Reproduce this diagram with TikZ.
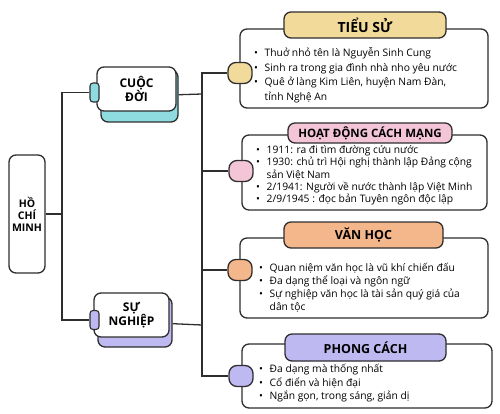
\documentclass[tikz,border=0pt]{standalone}
\usepackage{fontspec}
\setmainfont{Open Sans}
\usetikzlibrary{positioning}
\definecolor{ink}{HTML}{2E2E2E}
\definecolor{aqua}{HTML}{8FDCE0}
\definecolor{lilac}{HTML}{BEB9F1}
\definecolor{sand}{HTML}{F2DB9A}
\definecolor{rose}{HTML}{F4C4D7}
\definecolor{peach}{HTML}{F4B78C}
\tikzset{link/.style={draw=ink,line width=1.3pt},
         card/.style={draw=ink,line width=1.3pt,rounded corners=7pt,fill=white,inner sep=0pt},
         tab/.style={draw=ink,line width=1.1pt,rounded corners=3pt,minimum width=9pt,minimum height=19pt,inner sep=0pt},
         pill/.style={draw=ink,line width=1.3pt,rounded corners=8pt,minimum width=24pt,minimum height=21pt,inner sep=0pt},
         heading/.style={card,font=\bfseries\fontsize{12.5}{14}\selectfont},
         branch/.style={card,align=center,font=\bfseries\fontsize{12}{14}\selectfont},
         points/.style={align=left,anchor=west,inner sep=0pt},
        }
\newcommand{\bul}{\makebox[10.5pt][l]{\textbullet}}
\newcommand{\cnt}{\hspace*{10.5pt}}

\begin{document}
\begin{tikzpicture}[x=1pt,y=-1pt]
        \useasboundingbox (0,0) rectangle (500,414);
        \coordinate (spL) at (62,214);
        \coordinate (spA) at (202,94);
        \coordinate (spB) at (202,325);

        \node[card, minimum width=36pt, minimum height=118pt, align=center, font=\bfseries\fontsize{10.5}{12}\selectfont](root)at(27,214){HỒ\\CHÍ\\MINH};

        \node[card, fill=aqua, minimum width=77pt, minimum height=52pt](cdback)at(139.5,96){};
        \node[branch, minimum width=79pt, minimum height=44pt](cd)at(136.5,89){CUỘC\\ĐỜI};
        \node[tab, fill=aqua](cdtab)at(94.5,92.5){};

        \node[card, fill=lilac, minimum width=74pt, minimum height=50pt](snback)at(135,322){};
        \node[branch, minimum width=75pt, minimum height=44pt](sn)at(131.5,315){SỰ\\NGHIỆP};
        \node[tab, fill=lilac](sntab)at(94.5,320){};

        \node[card, minimum width=248pt, minimum height=79pt](bio)at(364,68.5){};
        \node[heading, fill=sand, minimum width=162pt, minimum height=26pt, font=\bfseries\fontsize{14}{16}\selectfont](biohead)at(365,25){TIỂU SỬ};
        \node[pill, fill=sand](biopill)at(240,73){};
        \node[points, font=\fontsize{10.3}{14.5}\selectfont](biotext)at(254,75){\bul Thuở nhỏ tên là Nguyễn Sinh Cung\\
            \bul Sinh ra trong gia đình nhà nho yêu nước\\
            \bul Quê ở làng Kim Liên, huyện Nam Đàn,\\
            \cnt tỉnh Nghệ An};

        \node[card, minimum width=245pt, minimum height=75pt](act)at(364.5,172.5){};
        \node[heading, fill=rose, minimum width=164pt, minimum height=20pt, font=\bfseries\fontsize{11.5}{13}\selectfont](acthead)at(370,133){HOẠT ĐỘNG CÁCH MẠNG};
        \node[pill, fill=rose](actpill)at(241,171){};
        \node[points, font=\fontsize{10.3}{12.3}\selectfont](acttext)at(256,175.5){\bul 1911: ra đi tìm đường cứu nước\\
            \bul 1930: chủ trì Hội nghị thành lập Đảng cộng\\
            \cnt sản Việt Nam\\
            \bul 2/1941: Người về nước thành lập Việt Minh\\
            \bul 2/9/1945 : đọc bản Tuyên ngôn độc lập};

        \node[card, minimum width=248pt, minimum height=80pt](lit)at(364,278){};
        \node[heading, fill=peach, minimum width=159pt, minimum height=26pt](lithead)at(363.5,235){VĂN HỌC};
        \node[pill, fill=peach](litpill)at(240,270){};
        \node[points, font=\fontsize{10.3}{13}\selectfont](littext)at(259,287.5){\bul Quan niệm văn học là vũ khí chiến đấu\\
            \bul Đa dạng thể loại và ngôn ngữ\\
            \bul Sự nghiệp văn học là tài sản quý giá của\\
            \cnt dân tộc};

        \node[card, minimum width=250pt, minimum height=64pt](sty)at(367,376){};
        \node[heading, fill=lilac, minimum width=161pt, minimum height=27pt](styhead)at(365.5,347.5){PHONG CÁCH};
        \node[pill, fill=lilac](stypill)at(241,376){};
        \node[points, font=\fontsize{10.3}{13.5}\selectfont](stytext)at(259,383.5){\bul Đa dạng mà thống nhất\\
            \bul Cổ điển và hiện đại\\
            \bul Ngắn gọn, trong sáng, giản dị};

        \draw[link](root)--(spL);
        \draw[link](cdtab)-|(spL)|-(sntab);
        \draw[link](cdback)--(spA);
        \draw[link](snback)--(spB);
        \draw[link](spA)--(spB);
        \draw[link](biopill)-|(spA)|-(actpill);
        \draw[link](litpill)-|(spB)|-(stypill);
    \end{tikzpicture}
\end{document}
